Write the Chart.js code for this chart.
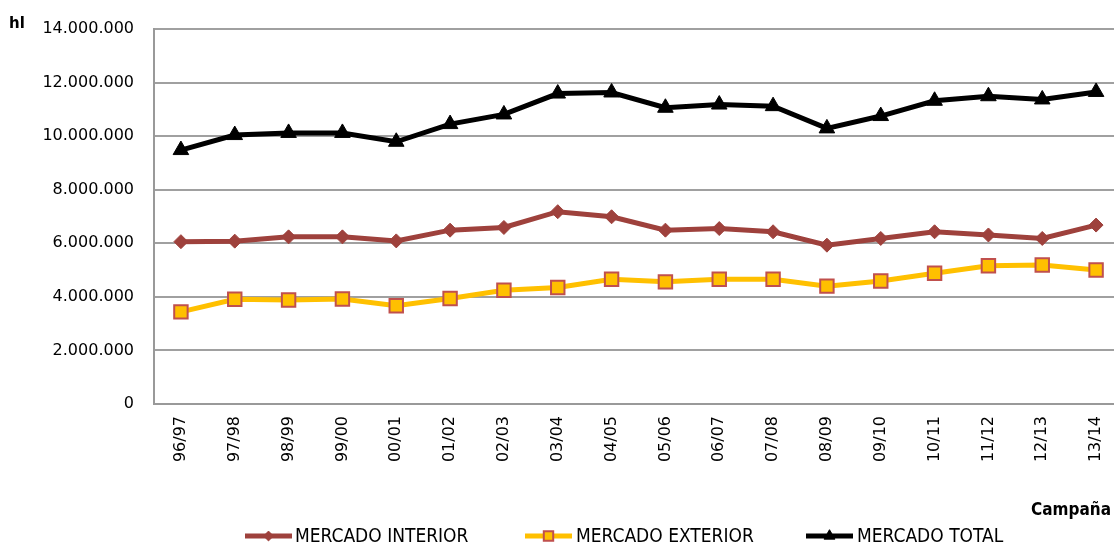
<!DOCTYPE html>
<html><head><meta charset="utf-8">
<script src="https://cdn.jsdelivr.net/npm/chart.js@4/dist/chart.umd.min.js"></script>
<style>html,body{margin:0;padding:0;background:#fff;overflow:hidden}#wrap{width:1114px;height:548px;position:relative;overflow:hidden}</style>
</head><body><div id="wrap"><canvas id="c" width="1123" height="548"></canvas></div>
<script>
const categories = ['96/97','97/98','98/99','99/00','00/01','01/02','02/03','03/04','04/05','05/06','06/07','07/08','08/09','09/10','10/11','11/12','12/13','13/14'];
const mercadoInterior = [6060000,6080000,6240000,6240000,6090000,6490000,6590000,7180000,6990000,6490000,6550000,6430000,5930000,6180000,6430000,6310000,6180000,6680000];
const mercadoExterior = [3440000,3910000,3880000,3920000,3670000,3940000,4250000,4350000,4660000,4560000,4660000,4660000,4400000,4590000,4880000,5160000,5190000,5000000];
const mercadoTotal = [9480000,10040000,10120000,10120000,9790000,10450000,10810000,11590000,11630000,11060000,11180000,11120000,10290000,10750000,11320000,11490000,11370000,11650000];
const seriesNames = ['MERCADO INTERIOR','MERCADO EXTERIOR','MERCADO TOTAL'];
const yTicks = [0,2000000,4000000,6000000,8000000,10000000,12000000,14000000];
const yUnit = 'hl';
const xTitle = 'Campaña';

const FONT = 'DejaVu Sans';
const FONT_C = 'DejaVu Sans Condensed';
function fmt(v){return String(v).replace(/\B(?=(\d{3})+(?!\d))/g,'.');}

const extras = {
  id:'extras',
  afterDraw(chart){
    const ctx = chart.ctx;
    ctx.save();
    ctx.fillStyle = '#000';
    ctx.font = 'bold 15px ' + FONT;
    ctx.textBaseline = 'middle';
    ctx.textAlign = 'left';
    ctx.fillText(yUnit, 9, 24);
    ctx.font = 'bold 17px ' + FONT_C;
    ctx.textAlign = 'right';
    ctx.fillText(xTitle, 1111, 511);
    // legend
    const items = [
      {x:245, tx:295, ds:chart.data.datasets[0]},
      {x:525, tx:576, ds:chart.data.datasets[1]},
      {x:806, tx:857, ds:chart.data.datasets[2]}
    ];
    const ly = 536;
    items.forEach(it=>{
      ctx.strokeStyle = it.ds.borderColor; ctx.lineWidth = 5; ctx.lineCap='butt';
      ctx.beginPath(); ctx.moveTo(it.x, ly); ctx.lineTo(it.x+47, ly); ctx.stroke();
      ctx.fillStyle = it.ds.pointBackgroundColor; ctx.strokeStyle = it.ds.pointBorderColor; ctx.lineWidth = it.ds.pointBorderWidth;
      Chart.helpers.drawPoint(ctx, {pointStyle: it.ds.pointStyle, radius: it.ds.pointRadius*0.7, borderWidth: it.ds.pointBorderWidth}, it.x+23.5, ly);
      ctx.fillStyle = '#000'; ctx.font = '19px ' + FONT_C; ctx.textAlign='left';
      ctx.fillText(it.ds.label, it.tx, ly+1);
    });
    ctx.restore();
  }
};

new Chart(document.getElementById('c'), {
  type:'line',
  data:{
    labels: categories,
    datasets:[
      {label:seriesNames[0], data:mercadoInterior, borderColor:'#9E413C', borderWidth:5, pointStyle:'rectRot', pointRadius:7, pointBackgroundColor:'#9E413C', pointBorderColor:'#9E413C', pointBorderWidth:1, tension:0, clip:false},
      {label:seriesNames[1], data:mercadoExterior, borderColor:'#FFC000', borderWidth:5, pointStyle:'rect', pointRadius:9.5, pointBackgroundColor:'#FFC000', pointBorderColor:'#C0504D', pointBorderWidth:2, tension:0, clip:false},
      {label:seriesNames[2], data:mercadoTotal, borderColor:'#000000', borderWidth:5, pointStyle:'triangle', pointRadius:9, pointBackgroundColor:'#000', pointBorderColor:'#000', pointBorderWidth:1, tension:0, clip:false}
    ]
  },
  options:{
    responsive:false, animation:false,
    layout:{autoPadding:false, padding:{top:29,right:0,left:0,bottom:0}},
    plugins:{legend:{display:false}, tooltip:{enabled:false}},
    scales:{
      x:{
        offset:true,
        grid:{display:false, drawTicks:false},
        border:{display:true,color:'#999',width:2},
        ticks:{minRotation:90,maxRotation:90,color:'#000',font:{family:FONT,size:16},padding:12,autoSkip:false},
        afterFit(s){s.height=144; s.paddingLeft=0; s.paddingRight=0;}
      },
      y:{
        min:0,max:14000000,
        afterBuildTicks(s){s.ticks = yTicks.map(v=>({value:v}));},
        grid:{color:'#a0a0a0',lineWidth:2,drawTicks:false},
        border:{display:true,color:'#999',width:2},
        ticks:{color:'#000',font:{family:FONT,size:16},padding:20,callback:v=>fmt(v)},
        afterFit(s){s.width=154; s.paddingTop=0; s.paddingBottom=0;}
      }
    }
  },
  plugins:[extras]
});
</script></body></html>
